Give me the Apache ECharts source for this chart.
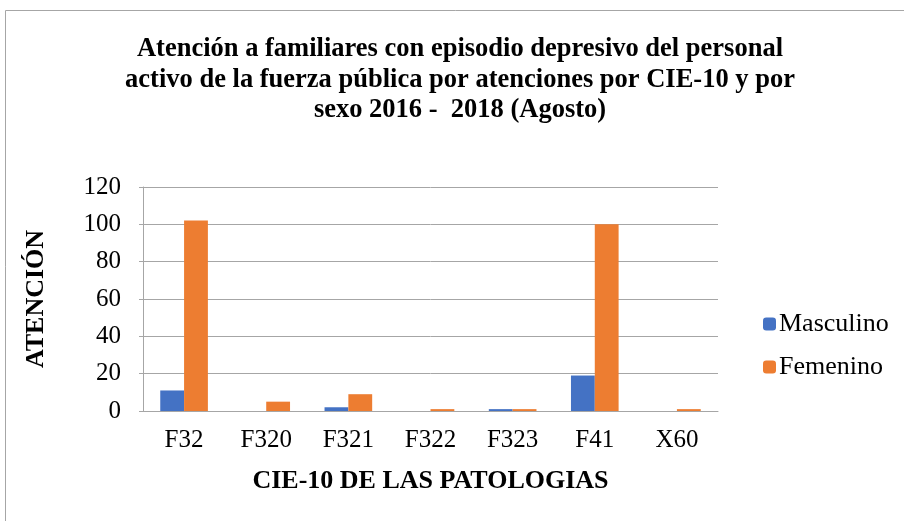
<!DOCTYPE html>
<html>
<head>
<meta charset="utf-8">
<script src="https://cdn.jsdelivr.net/npm/echarts@6/dist/echarts.min.js"></script>
<style>
  html, body { margin: 0; padding: 0; background: #fff; }
  #chart { width: 904px; height: 521px; }
</style>
</head>
<body>
<div id="chart"></div>
<script>
var categories = ['F32', 'F320', 'F321', 'F322', 'F323', 'F41', 'X60']
var masculino = [11, 0, 2, 0, 1, 19, 0]
var femenino = [102, 5, 9, 1, 1, 100, 1]
var yTicks = [0, 20, 40, 60, 80, 100, 120]

var font = '"Liberation Serif", "Times New Roman", serif'
var chart = echarts.init(document.getElementById('chart'))

chart.setOption({
  backgroundColor: '#fff',
  color: ['#4472C4', '#ED7D31'],
  animation: false,
  textStyle: { fontFamily: font, color: '#000' },
  graphic: [
    {
      type: 'rect',
      shape: { x: 5.5, y: 10.5, width: 920, height: 530 },
      style: { fill: 'none', stroke: '#a6a6a6', lineWidth: 1 }
    }
  ],
  title: {
    text: 'Atención a familiares con episodio depresivo del personal\nactivo de la fuerza pública por atenciones por CIE-10 y por\nsexo 2016 -  2018 (Agosto)',
    left: 455,
    top: 29,
    textAlign: 'center',
    textStyle: {
      fontFamily: font,
      fontSize: 26.5,
      fontWeight: 'bold',
      lineHeight: 30.5,
      color: '#000'
    }
  },
  legend: {
    orient: 'vertical',
    left: 758,
    top: 306,
    itemWidth: 13,
    itemHeight: 13,
    itemGap: 17,
    textStyle: { fontFamily: font, fontSize: 26, color: '#000', padding: [0, 0, 0, -2] },
    data: ['Masculino', 'Femenino']
  },
  grid: {
    left: 143,
    right: 186,
    top: 187,
    bottom: 110
  },
  xAxis: {
    type: 'category',
    data: categories,
    name: 'CIE-10 DE LAS PATOLOGIAS',
    nameLocation: 'middle',
    nameGap: 57,
    nameTextStyle: { fontFamily: font, fontSize: 26, fontWeight: 'bold', color: '#000' },
    axisLine: { lineStyle: { color: '#a6a6a6' } },
    axisTick: { show: false },
    axisLabel: { fontFamily: font, fontSize: 25, color: '#000', margin: 17 }
  },
  yAxis: {
    type: 'value',
    min: 0,
    max: 120,
    interval: 20,
    name: 'ATENCIÓN',
    nameLocation: 'middle',
    nameGap: 94,
    nameRotate: 90,
    nameTextStyle: { fontFamily: font, fontSize: 26, fontWeight: 'bold', color: '#000' },
    axisLine: { show: true, lineStyle: { color: '#a6a6a6' } },
    axisTick: { show: true, length: 4, lineStyle: { color: '#a6a6a6' } },
    splitLine: { lineStyle: { color: '#a6a6a6' } },
    axisLabel: {
      fontFamily: font,
      fontSize: 25,
      color: '#000',
      margin: 22,
      formatter: function (v) { return yTicks.indexOf(v) >= 0 ? String(v) : '' }
    }
  },
  series: [
    {
      name: 'Masculino',
      type: 'bar',
      data: masculino,
      barGap: '0%',
      barCategoryGap: '42%'
    },
    {
      name: 'Femenino',
      type: 'bar',
      data: femenino,
      barGap: '0%',
      barCategoryGap: '42%'
    }
  ]
})
</script>
</body>
</html>
